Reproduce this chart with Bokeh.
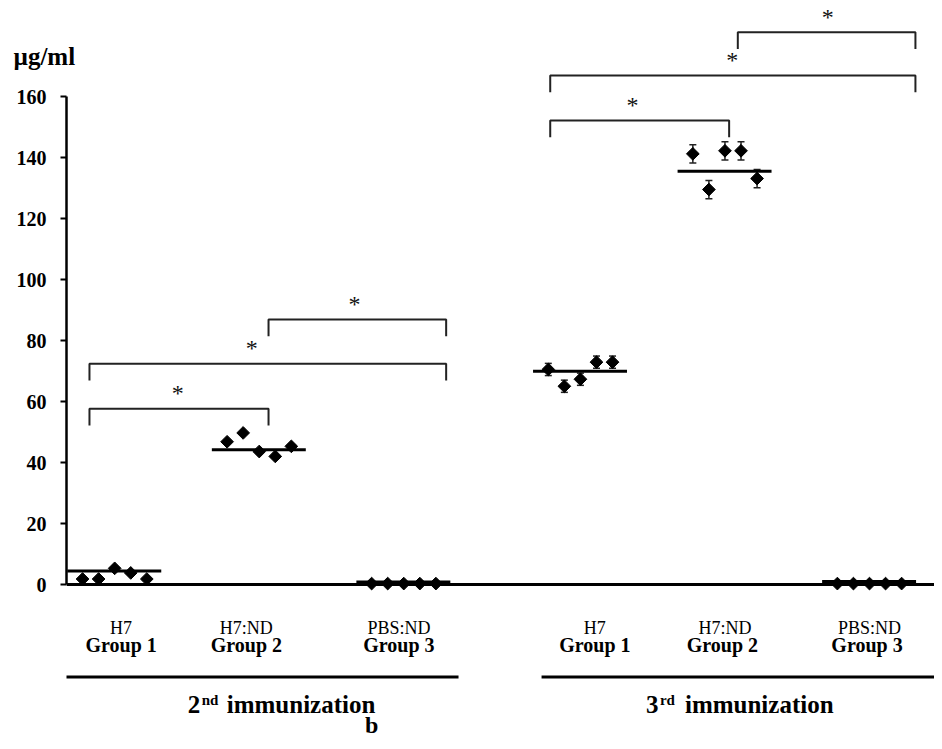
import math
from bokeh.plotting import figure
from bokeh.models import Range1d, FixedTicker, ColumnDataSource, Whisker, TeeHead
from bokeh.core.properties import value
from bokeh.embed import file_html
from bokeh.resources import INLINE

# ---------------- data ----------------
group_names = ["H7", "H7:ND", "PBS:ND", "H7", "H7:ND", "PBS:ND"]
group_labels = ["Group 1", "Group 2", "Group 3", "Group 1", "Group  2", "Group  3"]
immunizations = ["2", "3"]
imm_suffix = ["nd", "rd"]

imm2_g1 = [1.8, 1.8, 5.3, 3.8, 1.8]
imm2_g2 = [46.8, 49.7, 43.6, 42.0, 45.3]
imm2_g3 = [0.3, 0.3, 0.3, 0.3, 0.3]
imm3_g1 = [70.5, 65.0, 67.3, 72.9, 72.9]
imm3_g2 = [141.2, 129.5, 142.2, 142.2, 133.1]
imm3_g3 = [0.3, 0.3, 0.3, 0.3, 0.3]
imm3_g1_err = [2.0, 2.0, 2.0, 2.0, 2.0]
imm3_g2_err = [3.0, 3.0, 3.0, 3.0, 3.0]
group_means = [4.4, 44.2, 0.8, 69.9, 135.5, 1.0]

# significance brackets (y level of bar, in µg/ml)
sig_levels = [57.6, 72.4, 86.9, 152.1, 166.9, 181.1]
sig_text = ["*", "*", "*", "*", "*", "*"]

y_ticks = [0, 20, 40, 60, 80, 100, 120, 140, 160]

# ---------------- layout (slot positions along x) ----------------
group_start = [1, 10, 19, 30, 39, 48]
sig_left = [1.43, 1.43, 12.58, 30.12, 30.12, 41.8]
sig_right = [12.58, 23.64, 23.64, 41.26, 52.86, 52.86]
sig_star_x = [6.93, 11.54, 17.93, 35.24, 41.45, 47.4]
label_dx = [0.4, -0.8, -0.3, 0.9, 0.0, 0.0]
imm_anchor = [7.55, 36.08]
imm_line = [(-0.19, 24.41), (29.58, 54.6)]

all_vals = [imm2_g1, imm2_g2, imm2_g3, imm3_g1, imm3_g2, imm3_g3]

PX_PER_UNIT = 3.05
PX_PER_SLOT = 16.06
FRAME_W = 868
FRAME_H = 739
y_top = 584 / PX_PER_UNIT
y_bot = y_top - FRAME_H / PX_PER_UNIT

p = figure(frame_width=FRAME_W, frame_height=FRAME_H, output_backend="svg",
           toolbar_location=None, x_range=Range1d(0, FRAME_W / PX_PER_SLOT),
           y_range=Range1d(y_bot, y_top),
           min_border_left=66, min_border_right=0, min_border_top=0,
           min_border_bottom=0)
p.background_fill_color = "white"
p.border_fill_color = "white"
p.outline_line_color = None
p.grid.visible = False

SERIF = "Liberation Serif"

# y axis
ya = p.yaxis[0]
ya.bounds = (0, 160)
ya.ticker = FixedTicker(ticks=y_ticks)
ya.axis_line_width = 2.5
ya.axis_line_color = "black"
ya.major_tick_line_width = 2
ya.major_tick_out = 6
ya.major_tick_in = 0
ya.minor_tick_out = 0
ya.minor_tick_in = 0
ya.major_label_text_font = SERIF
ya.major_label_text_font_style = "bold"
ya.major_label_text_font_size = "20px"
ya.major_label_text_color = "black"
ya.major_label_standoff = 14

# x axis = baseline at 0
xa = p.xaxis[0]
xa.fixed_location = 0
xa.ticker = FixedTicker(ticks=[])
xa.axis_line_width = 3
xa.axis_line_color = "black"
xa.major_tick_out = 0
xa.major_tick_in = 0
xa.minor_tick_out = 0
xa.minor_tick_in = 0
xa.major_label_text_font_size = "0px"
xa.major_label_standoff = 0

# points, mean lines
xs, ys = [], []
mx0, mx1 = [], []
for gi, vals in enumerate(all_vals):
    for i, v in enumerate(vals):
        xs.append(group_start[gi] + i)
        ys.append(v)
    mx0.append(group_start[gi] - 0.95)
    mx1.append(group_start[gi] + len(vals) - 1 + 0.9)

p.segment(x0=mx0, y0=group_means, x1=mx1, y1=group_means,
          line_color="black", line_width=3)

# error bars (3rd immunization)
ex, eu, el = [], [], []
for gi, vals, errs in [(3, imm3_g1, imm3_g1_err), (4, imm3_g2, imm3_g2_err)]:
    for i, (v, e) in enumerate(zip(vals, errs)):
        ex.append(group_start[gi] + i)
        eu.append(v + e)
        el.append(v - e)
esrc = ColumnDataSource(dict(base=ex, upper=eu, lower=el))
p.add_layout(Whisker(source=esrc, base="base", upper="upper", lower="lower",
                     line_color="#222222", line_width=1.5,
                     upper_head=TeeHead(size=7, line_width=1.5, line_color="#222222"),
                     lower_head=TeeHead(size=7, line_width=1.5, line_color="#222222")))

p.scatter(x=xs, y=ys, marker="square", angle=math.pi / 4, size=9,
          fill_color="black", line_color="black")

# significance brackets
drop = 5.5
bx, by = [], []
for l, r, lev in zip(sig_left, sig_right, sig_levels):
    bx.append([l, l, r, r])
    by.append([lev - drop, lev, lev, lev - drop])
p.multi_line(xs=bx, ys=by, line_color="#222222", line_width=2)
p.text(x=sig_star_x, y=[s + 5.4 for s in sig_levels], text=sig_text,
       text_align="center", text_baseline="middle", y_offset=1,
       text_font=value(SERIF), text_font_size="24px", text_color="#111111",
       level="overlay")

# group labels
gcx = [group_start[i] + 2 + label_dx[i] for i in range(6)]
p.text(x=gcx, y=[-14.4] * 6, text=group_names, text_align="center",
       text_baseline="middle", text_font=value(SERIF),
       text_font_size="18px", text_color="black")
p.text(x=gcx, y=[-19.9] * 6, text=group_labels, text_align="center",
       text_baseline="middle", text_font=value(SERIF), text_font_style="bold",
       text_font_size="20px", text_color="black")

# immunization underline
p.segment(x0=[a for a, b in imm_line], x1=[b for a, b in imm_line],
          y0=[-30.3, -30.3], y1=[-30.3, -30.3], line_color="black", line_width=3)

# immunization titles
imm_y = [-39.5, -39.5]
p.text(x=imm_anchor, y=imm_y, text=immunizations, text_align="left",
       text_baseline="middle", text_font=value(SERIF), text_font_style="bold",
       text_font_size="25px", text_color="black")
p.text(x=imm_anchor, y=imm_y, text=imm_suffix, text_align="left",
       text_baseline="middle", x_offset=14, y_offset=-5,
       text_font=value(SERIF), text_font_style="bold",
       text_font_size="15px", text_color="black")
p.text(x=imm_anchor, y=imm_y, text=["immunization", "immunization"],
       text_align="left", text_baseline="middle", x_offset=39,
       text_font=value(SERIF), text_font_style="bold",
       text_font_size="25px", text_color="black")

# unit label and panel letter (drawn above the frame clip)
p.text(x=[-3.3], y=[173.1], text=["µg/ml"], text_align="left",
       text_baseline="middle", text_font=value(SERIF), text_font_style="bold",
       text_font_size="25px", text_color="black", level="overlay")
p.text(x=[19.0], y=[-46.0], text=["b"], text_align="center",
       text_baseline="middle", text_font=value(SERIF), text_font_style="bold",
       text_font_size="24px", text_color="black", level="overlay")

open("out.html", "w").write(file_html(p, INLINE))
